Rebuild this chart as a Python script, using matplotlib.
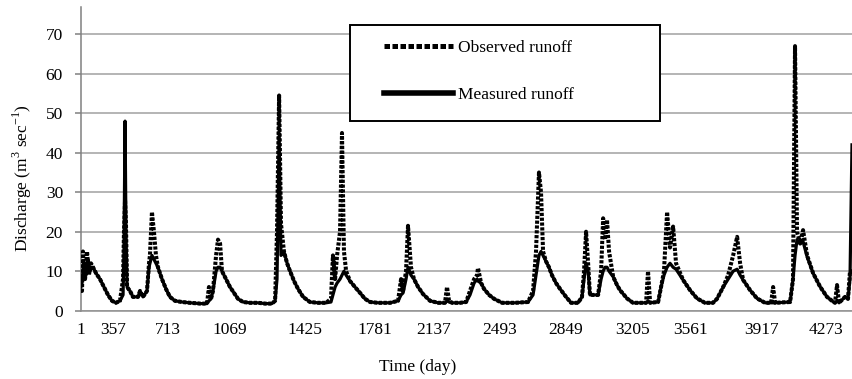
import numpy as np
import matplotlib.pyplot as plt
from matplotlib.lines import Line2D
from matplotlib.patches import Rectangle

plt.rcParams['font.family'] = ['Liberation Serif', 'DejaVu Serif']
plt.rcParams['mathtext.fontset'] = 'custom'
plt.rcParams['mathtext.rm'] = 'Liberation Serif'

# Daily runoff (day, measured, observed)
day = [1, 12, 23, 34, 46, 57, 68, 79, 90, 101, 112, 135, 168, 212, 257, 301, 346,
       376, 402, 422, 428, 435, 441, 448, 467, 486, 519, 532, 551, 577, 590, 596, 609, 622, 635, 648, 674, 700,
       724, 753, 793, 839, 897, 937, 948, 960, 971, 989, 1000, 1012, 1023, 1046, 1069,
       1088, 1107, 1131, 1164, 1202, 1235, 1268, 1283, 1292, 1302, 1311, 1325, 1340, 1354, 1373, 1392, 1416,
       1450, 1491, 1532, 1557, 1567, 1578, 1588, 1603, 1613, 1623, 1634, 1654, 1679, 1705, 1730, 1756,
       1799, 1872, 1920, 1938, 1950, 1968, 1980, 1998, 2016, 2041, 2071, 2113,
       2159, 2196, 2207, 2218, 2234, 2277, 2310, 2331, 2353, 2369, 2374, 2391, 2407, 2434, 2461,
       2504, 2574, 2644, 2671, 2687, 2703, 2714, 2725, 2741, 2757, 2773, 2795, 2817,
       2849, 2876, 2914, 2935, 2946, 2957, 2968, 2978, 3000, 3022, 3038, 3049, 3059, 3070, 3081, 3103, 3124, 3140, 3178,
       3211, 3291, 3303, 3316, 3365, 3383, 3401, 3420, 3438, 3457, 3475, 3518,
       3561, 3596, 3636, 3676, 3696, 3727, 3752, 3777, 3797, 3812, 3827, 3862, 3897,
       3939, 3972, 3983, 3994, 4076, 4092, 4103, 4114, 4131, 4147, 4169, 4202, 4240, 4278,
       4311, 4322, 4333, 4344, 4377, 4393, 4404, 4415]

measured = [6, 7, 10, 12, 9, 9, 12, 13, 11, 10, 11, 11, 9.5, 8, 6, 4, 2.5,
            2, 2.5, 4, 15, 48, 20, 6, 5, 3.5, 3.5, 5, 3.5, 5, 11, 12, 14, 13, 12, 11, 8, 5.5,
            3.5, 2.5, 2.2, 2, 1.8, 1.8, 2.5, 3, 5, 10, 11, 11, 10, 8, 6,
            4.5, 3, 2.2, 2, 2, 1.8, 1.8, 2.5, 8, 44, 14, 15, 12, 10, 7.5, 5.5, 3.5,
            2.2, 2, 2, 2.2, 4, 6, 7, 8, 9, 10, 9, 7.5, 6, 4.5, 3, 2.2,
            2, 2, 2.5, 4, 4.5, 8, 11, 9, 8, 6, 4.2, 2.5,
            2, 2, 2.5, 2.2, 2, 2, 2.2, 4, 7, 8, 7.5, 7, 5.5, 4, 3,
            2, 2, 2.2, 4, 9, 14, 15, 14, 12.5, 11, 9, 7, 5.5,
            3.5, 2, 2, 3.5, 8, 12, 10, 4, 4, 4, 8, 10, 11, 11, 10, 8.6, 6.5, 5.2, 3.1,
            2, 2, 2.5, 2, 2.2, 6, 9, 11, 12, 11, 10.5, 7.8,
            5.2, 3.1, 2, 2, 3, 6, 8, 10, 10.5, 9, 7.8, 5.2, 3.1,
            2, 2, 2, 2, 2.2, 8, 14, 18, 17, 17.5, 13.7, 9.5, 6.1, 3.5,
            2.3, 2, 2.5, 2, 3.5, 3, 8, 42]

observed = [5, 5, 15, 10, 8, 11, 15, 12, 9, 11, 12, 11, 9.5, 8, 6, 4, 2.5,
            2, 2.5, 8, 20, 28, 22, 6, 5, 3.5, 3.5, 5, 3.5, 5, 12, 14, 25, 20, 14, 11, 8, 5.5,
            3.5, 2.5, 2.2, 2, 1.8, 1.8, 6, 3, 5, 14, 18, 17, 10, 8, 6,
            4.5, 3, 2.2, 2, 2, 1.8, 1.8, 2.5, 20, 54.5, 22, 15, 12, 10, 7.5, 5.5, 3.5,
            2.2, 2, 2, 3, 14, 8, 14, 20, 45, 15, 10, 7.5, 6, 4.5, 3, 2.2,
            2, 2, 2.5, 8, 5, 10, 21.5, 11, 8, 6, 4.2, 2.5,
            2, 2, 6, 2.5, 2, 2, 2.2, 5, 8, 9, 10.8, 7, 5.5, 4, 3,
            2, 2, 2.2, 5, 15, 35, 30, 15, 12.5, 11, 9, 7, 5.5,
            3.5, 2, 2, 3.5, 10, 20, 12, 4, 4, 4, 10, 23.4, 18, 23, 15, 8.6, 6.5, 5.2, 3.1,
            2, 2, 10, 2, 2.2, 6, 10, 25, 16, 21.3, 12, 7.8,
            5.2, 3.1, 2, 2, 3, 6, 9, 14, 18.7, 12, 7.8, 5.2, 3.1,
            2, 2, 6, 2, 2.2, 8, 67, 20, 17, 20.4, 14, 9.5, 6.1, 3.5,
            2.3, 2, 6.5, 2, 3.5, 3, 10, 10]

tick_days = [1, 357, 713, 1069, 1425, 1781, 2137, 2493, 2849, 3205, 3561, 3917, 4273]

# the category labels in the original sit unevenly along the axis,
# so the x scale follows where they are drawn
label_pos = [81, 113, 168, 230, 305, 375, 434, 500, 566, 632, 690, 761, 826]
knot_d = [-5000] + tick_days + [10000]
knot_p = [81 - 5001 * 32 / 356] + label_pos + [826 + (10000 - 4273) * 65 / 356]

def fwd(d):
	return np.interp(d, knot_d, knot_p)

def inv(p):
	return np.interp(p, knot_p, knot_d)

fig = plt.figure(figsize=(8.52, 3.79), dpi=100)
ax = fig.add_axes([81 / 852, 1 - 310.7 / 379, 771 / 852, 303.7 / 379])

ax.plot(day, observed, color='black', lw=2.9, linestyle=(0, (0.8, 0.4)), solid_capstyle='butt', zorder=3)
ax.plot(day, measured, color='black', lw=2.3, zorder=4)

ax.set_xscale('function', functions=(fwd, inv))
ax.set_xlim(1, 4415)
ax.set_ylim(0, 76.9)
ax.set_xticks(tick_days)
ax.set_xticklabels([str(d) for d in tick_days])
ax.set_yticks(range(0, 71, 10))
ax.minorticks_off()

ax.yaxis.grid(True, color='#a0a0a0', lw=1.1)
ax.set_axisbelow(True)
ax.spines['right'].set_visible(False)
ax.spines['top'].set_visible(False)
ax.spines['left'].set_color('#808080')
ax.spines['bottom'].set_color('#909090')
ax.spines['left'].set_linewidth(1.1)
ax.spines['bottom'].set_linewidth(1.1)
ax.tick_params(axis='x', length=0, pad=8, labelsize=12.5)
ax.tick_params(axis='y', length=4, width=1.1, color='#808080', pad=9, labelsize=12.5)

fig.text(22 / 852, 1 - 178 / 379, 'Discharge (m$^{\\mathrm{3}}$ sec$^{\\mathrm{-1}}$)',
         rotation=90, ha='center', va='center', fontsize=12.5)
fig.text(418 / 852, 1 - 367 / 379, 'Time (day)', ha='center', va='center', fontsize=12.5)

# legend box
box = Rectangle((350 / 852, 1 - 121 / 379), 310 / 852, 96 / 379, transform=fig.transFigure,
                facecolor='white', edgecolor='black', lw=1.4, zorder=5)
fig.add_artist(box)
handles = [Line2D([], [], color='black', lw=3.6, linestyle=(0, (1.1, 0.5))),
           Line2D([], [], color='black', lw=4.0)]
leg = fig.legend(handles, ['Observed runoff', 'Measured runoff'], loc='upper left',
                 bbox_to_anchor=(384 / 852, 1 - 40 / 379), frameon=False, fontsize=12.5,
                 borderpad=0, borderaxespad=0, handlelength=4.0, handletextpad=0.25, labelspacing=1.75)
leg.set_zorder(6)

fig.savefig('out.png', dpi=100)
